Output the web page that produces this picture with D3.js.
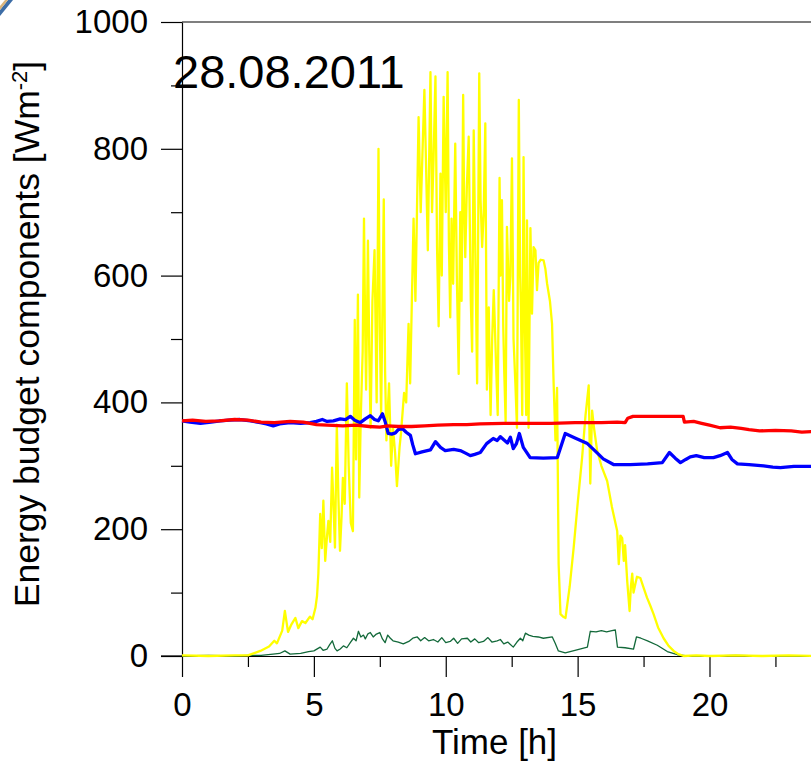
<!DOCTYPE html>
<html>
<head>
<meta charset="utf-8">
<script src="https://cdn.jsdelivr.net/npm/d3@7"></script>
<style>
  body { margin: 0; background: #fff; }
  text { font-family: "Liberation Sans", Arial, sans-serif; }
</style>
</head>
<body>
<div id="chart"></div>
<script>
// Data: [hour, W m-2]
const dateLabel = "28.08.2011";
const xTicks = [0, 5, 10, 15, 20];
const xMinorTicks = [2.5, 7.5, 12.5, 17.5, 22.5];
const yTicks = [0, 200, 400, 600, 800, 1000];
const yMinorTicks = [100, 300, 500, 700, 900];

// yellow - shortwave in
const shortIn = [
  [0,1],[1,0],[2,1],[2.5,1],[2.97,8],[3.3,15],[3.5,24],[3.6,20],[3.8,40],[3.9,71],[4.02,38],[4.15,50],
  [4.3,60],[4.41,44],[4.55,55],[4.68,52],[4.85,62],[4.95,58],[5.06,76],[5.12,95],[5.17,130],[5.24,224],
  [5.3,170],[5.36,245],[5.43,150],[5.5,190],[5.55,213],[5.62,180],[5.69,297],[5.75,230],[5.8,171],
  [5.87,365],[5.93,250],[5.99,166],[6.05,220],[6.1,281],[6.17,240],[6.25,430],[6.32,300],[6.4,210],
  [6.48,197],[6.55,530],[6.6,310],[6.67,570],[6.72,250],[6.78,380],[6.85,480],[6.9,690],[6.95,500],
  [6.98,420],[7.05,655],[7.1,480],[7.15,360],[7.22,560],[7.3,640],[7.38,400],[7.45,800],[7.5,520],
  [7.55,380],[7.65,720],[7.7,450],[7.75,340],[7.85,430],[7.93,300],[8.0,360],[8.08,320],[8.15,268],
  [8.25,330],[8.3,350],[8.42,415],[8.5,400],[8.59,524],[8.65,430],[8.78,690],[8.85,560],[8.97,850],
  [9.05,700],[9.19,893],[9.25,780],[9.32,640],[9.42,921],[9.48,700],[9.54,787],[9.61,914],[9.67,645],
  [9.73,520],[9.8,761],[9.85,600],[9.92,882],[10.0,700],[10.07,921],[10.12,650],[10.17,534],[10.22,690],
  [10.28,587],[10.36,808],[10.42,600],[10.49,445],[10.55,700],[10.6,560],[10.66,885],[10.7,700],
  [10.74,629],[10.8,740],[10.87,819],[10.95,560],[11.0,480],[11.06,829],[11.12,640],[11.19,430],
  [11.27,919],[11.32,720],[11.38,645],[11.44,700],[11.5,840],[11.56,420],[11.63,550],[11.7,380],
  [11.76,500],[11.82,577],[11.9,470],[11.97,380],[12.04,754],[12.08,600],[12.13,719],[12.18,520],
  [12.22,445],[12.27,370],[12.32,677],[12.4,560],[12.45,600],[12.51,785],[12.57,500],[12.64,430],
  [12.7,360],[12.77,877],[12.82,600],[12.85,550],[12.9,380],[12.95,787],[13.0,520],[13.05,380],
  [13.08,687],[13.14,360],[13.21,675],[13.27,540],[13.33,645],[13.4,640],[13.46,577],[13.52,620],
  [13.6,625],[13.71,624],[13.78,610],[13.84,588],[13.95,560],[14.03,524],[14.09,430],[14.16,340],
  [14.22,423],[14.28,145],[14.35,66],[14.45,62],[14.54,60],[14.7,110],[14.85,171],[15.0,240],
  [15.17,313],[15.3,380],[15.36,403],[15.42,427],[15.48,272],[15.52,340],[15.55,387],[15.62,360],
  [15.74,324],[15.9,300],[16.12,276],[16.3,235],[16.5,197],[16.56,145],[16.62,190],[16.69,186],
  [16.75,150],[16.8,175],[16.88,118],[16.97,71],[17.02,110],[17.07,130],[17.12,100],[17.19,114],
  [17.25,125],[17.38,123],[17.5,108],[17.63,92],[17.75,80],[17.88,66],[18.05,45],[18.26,28],
  [18.45,16],[18.64,8],[18.82,3],[19.02,0],[19.5,1],[20,0],[21,1],[22,0],[23,1],[24,0]
];

// blue - longwave out
const longOut = [
  [0,371],[0.3,369],[0.7,367],[1.1,369],[1.45,371],[1.8,372],[2.2,373],[2.6,371],[2.97,368],[3.2,366],
  [3.46,363],[3.7,366],[4.1,368],[4.5,367],[4.86,368],[5.1,370],[5.32,373],[5.5,370],[5.74,371],
  [6.0,374],[6.2,373],[6.38,378],[6.55,372],[6.76,368],[6.95,374],[7.14,379],[7.3,373],[7.44,371],
  [7.6,382],[7.7,370],[7.82,351],[7.95,350],[8.09,352],[8.2,357],[8.35,359],[8.5,353],[8.66,348],
  [8.75,333],[8.85,319],[9.1,322],[9.42,325],[9.61,338],[9.8,329],[9.98,324],[10.3,326],[10.55,324],
  [10.75,320],[10.93,316],[11.1,318],[11.31,321],[11.55,335],[11.8,343],[11.95,340],[12.07,346],
  [12.2,341],[12.34,336],[12.45,345],[12.56,327],[12.68,335],[12.79,351],[12.94,329],[13.2,313],
  [13.7,312],[14.23,313],[14.53,351],[14.9,344],[15.37,335],[15.7,322],[15.97,311],[16.36,302],
  [17.0,302],[17.65,303],[18.21,305],[18.48,321],[18.7,312],[18.9,305],[19.1,310],[19.27,314],
  [19.5,316],[19.8,313],[20.15,313],[20.4,316],[20.68,321],[20.85,310],[21.06,303],[21.5,302],
  [22.05,300],[22.4,298],[22.69,297],[23.2,299],[23.86,299],[24,299]
];

// red - longwave in
const longIn = [
  [0,371],[0.4,372],[0.9,370],[1.4,371],[2.0,373],[2.5,372],[3.0,369],[3.5,368],[4.1,370],[4.6,369],
  [5.1,365],[5.5,364],[6.1,363],[6.6,364],[7.1,362],[7.5,361],[7.8,363],[8.2,362],[8.7,362],[9.2,363],
  [9.7,364],[10.3,365],[10.8,365],[11.3,366],[12.2,367],[13.2,367],[14.0,367],[14.9,368],[15.9,368],
  [16.5,369],[16.8,368],[16.9,375],[17.1,378],[17.5,378],[19.0,378],[19.05,369],[19.4,370],[19.7,367],
  [20.0,364],[20.4,360],[20.8,361],[21.2,359],[21.5,357],[21.9,355],[22.5,356],[23.1,355],[23.5,353],
  [23.9,354],[24,354]
];

// green - ground heat flux
const groundFlux = [
  [0,0],[1,1],[2,0],[2.5,1],[3,1],[3.45,3],[3.7,4],[3.9,8],[4.1,3],[4.5,4],[4.8,7],[5.0,8],[5.24,14],
  [5.35,9],[5.5,11],[5.6,18],[5.7,24],[5.8,12],[5.88,8],[6.0,11],[6.12,16],[6.25,13],[6.38,21],[6.5,28],
  [6.6,24],[6.69,39],[6.78,30],[6.88,33],[6.95,27],[7.05,35],[7.14,37],[7.25,30],[7.35,34],[7.5,37],
  [7.6,27],[7.7,21],[7.8,33],[7.9,28],[8.0,24],[8.2,22],[8.39,19],[8.6,23],[8.75,28],[8.92,30],[9.05,24],
  [9.2,29],[9.35,24],[9.53,26],[9.7,22],[9.85,29],[10.0,21],[10.17,23],[10.3,28],[10.45,20],[10.6,27],
  [10.82,28],[10.95,22],[11.1,27],[11.25,21],[11.43,23],[11.6,29],[11.75,22],[11.95,24],[12.07,26],
  [12.2,19],[12.35,22],[12.56,14],[12.7,22],[12.83,28],[12.92,24],[13.02,36],[13.15,33],[13.3,31],
  [13.51,30],[13.7,28],[14.04,30],[14.15,20],[14.27,8],[14.53,5],[14.9,9],[15.37,14],[15.48,39],
  [15.7,38],[15.9,40],[16.1,38],[16.3,40],[16.43,41],[16.51,14],[16.8,13],[17.12,11],[17.23,30],
  [17.4,28],[17.65,24],[18.02,17],[18.4,7],[18.78,2],[19.16,0],[20,0],[21,1],[22,0],[23,0],[24,0]
];

// Set up the SVG dimensions
const W = 811, H = 763;
const margin = { top: 22, right: -4, bottom: 107, left: 182 },
      width = W - margin.left - margin.right,
      height = H - margin.top - margin.bottom;

const root = d3.select("#chart")
  .append("svg")
    .attr("width", W)
    .attr("height", H);

// little slide decoration in the corner
root.append("path")
  .attr("d", "M0,10 L8,0 L13,0 L0,16 Z")
  .attr("fill", "#3d6da6");
root.append("path")
  .attr("d", "M0,6 L5,0 L8,0 L0,10 Z")
  .attr("fill", "#d9b47a");

const svg = root.append("g")
  .attr("transform", `translate(${margin.left},${margin.top})`);

const x = d3.scaleLinear().domain([0, 24]).range([0, width]);
const y = d3.scaleLinear().domain([0, 1000]).range([height, 0]);

// top frame line
svg.append("line")
  .attr("x1", 0).attr("x2", W)
  .attr("y1", 0).attr("y2", 0)
  .attr("stroke", "#000").attr("stroke-width", 1.2);

// X axis
svg.append("g")
  .attr("transform", `translate(0, ${height})`)
  .call(d3.axisBottom(x).tickValues(xTicks).tickSize(21).tickSizeOuter(0).tickPadding(16));
svg.append("g")
  .attr("transform", `translate(0, ${height})`)
  .call(d3.axisBottom(x).tickValues(xMinorTicks).tickSize(11).tickFormat(""))
  .call(g => g.select(".domain").remove());

// Y axis
svg.append("g")
  .call(d3.axisLeft(y).tickValues(yTicks).tickFormat(d3.format("d"))
    .tickSize(21).tickSizeOuter(0).tickPadding(13));
svg.append("g")
  .call(d3.axisLeft(y).tickValues(yMinorTicks).tickSize(11).tickFormat(""))
  .call(g => g.select(".domain").remove());

svg.selectAll(".tick line, .domain").attr("stroke", "#000").attr("stroke-width", 1.2);
svg.selectAll(".tick text").attr("font-size", 33).attr("fill", "#000")
  .attr("font-family", "'Liberation Sans', Arial, sans-serif");

// extend x axis line left to the outside tick
svg.append("line")
  .attr("x1", -21).attr("x2", 0)
  .attr("y1", height).attr("y2", height)
  .attr("stroke", "#000").attr("stroke-width", 1.2);

// Lines
const line = d3.line().x(d => x(d[0])).y(d => y(d[1]));
const series = [
  { data: groundFlux, color: "#13693a", w: 1.3 },
  { data: shortIn, color: "#ffff00", w: 2.3 },
  { data: longOut, color: "#0000ff", w: 3.3 },
  { data: longIn, color: "#ff0000", w: 3.3 }
];
svg.selectAll("path.series")
  .data(series)
  .join("path")
    .attr("class", "series")
    .attr("d", d => line(d.data))
    .attr("fill", "none")
    .attr("stroke", d => d.color)
    .attr("stroke-width", d => d.w)
    .attr("stroke-linejoin", "round");

// date label
svg.append("text")
  .attr("x", -9).attr("y", 66)
  .attr("font-size", 47)
  .attr("fill", "#000")
  .text(dateLabel);

// axis titles
root.append("text")
  .attr("x", margin.left + width / 2 - 4)
  .attr("y", 754)
  .attr("text-anchor", "middle")
  .attr("font-size", 35)
  .text("Time [h]");

const yt = root.append("text")
  .attr("transform", `translate(39, ${margin.top + height / 2 - 5}) rotate(-90)`)
  .attr("text-anchor", "middle")
  .attr("font-size", 35.5);
yt.append("tspan").text("Energy budget components [Wm");
yt.append("tspan").attr("font-size", 22).attr("dy", -12).text("-2");
yt.append("tspan").attr("dy", 12).text("]");
</script>
</body>
</html>
